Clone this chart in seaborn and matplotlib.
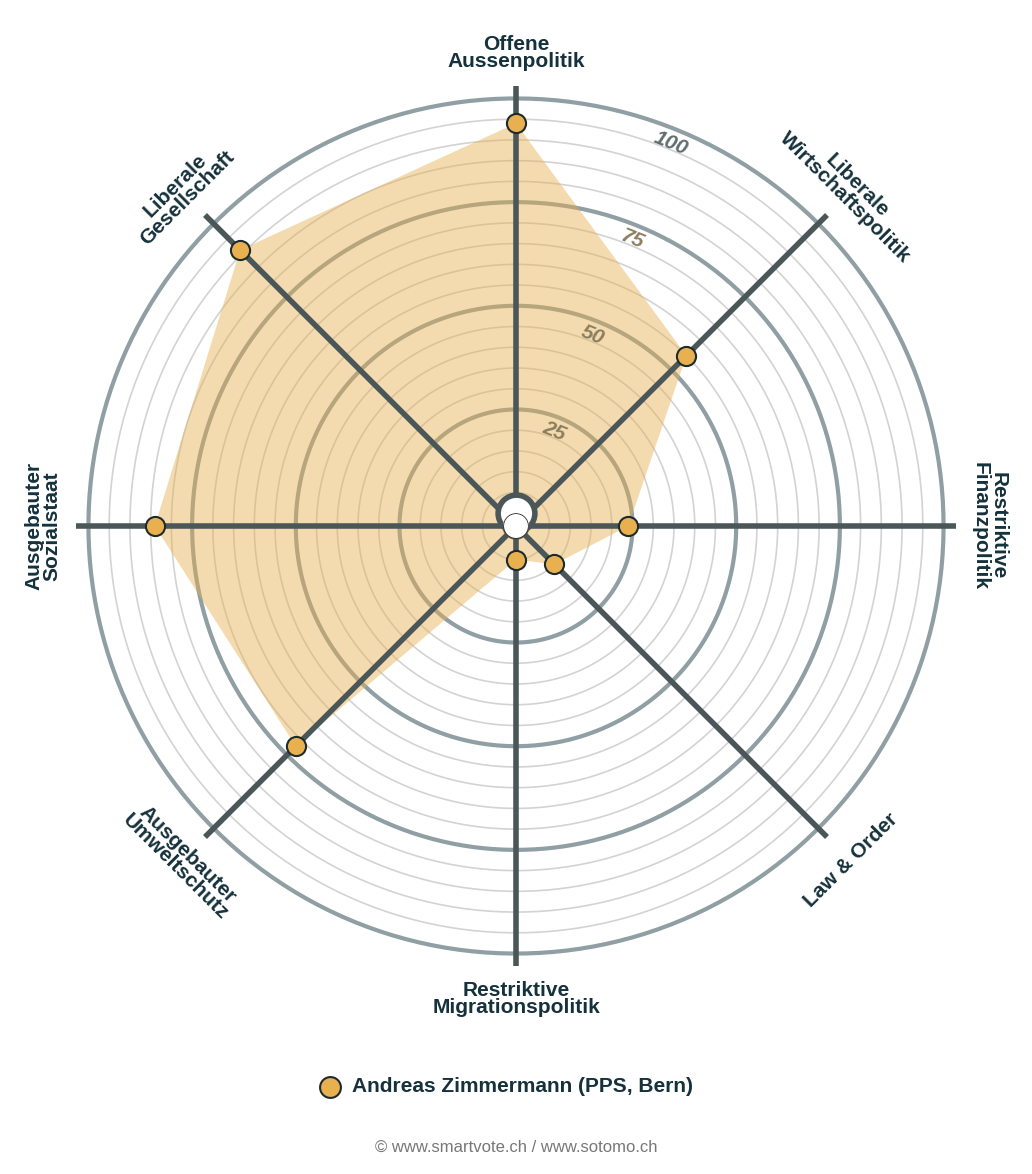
import numpy as np
import pandas as pd
import seaborn as sns
import matplotlib.pyplot as plt

# axis names, clockwise from the top
categories = [
    "Offene\nAussenpolitik", "Liberale\nWirtschaftspolitik", "Restriktive\nFinanzpolitik",
    "Law & Order", "Restriktive\nMigrationspolitik", "Ausgebauter\nUmweltschutz",
    "Ausgebauter\nSozialstaat", "Liberale\nGesellschaft",
]
values = [94, 55, 24, 10, 5, 72, 84, 91]
ring_ticks = [25, 50, 75, 100]
label_rot = [0, -45, -90, 45, 0, -45, 90, 45]
candidate = "Andreas Zimmermann (PPS, Bern)"

sns.set_theme(style="white")
plt.rcParams["font.family"] = ["Liberation Sans", "DejaVu Sans"]

fig = plt.figure(figsize=(10.32, 11.74), dpi=100)
ax = fig.add_axes([76 / 1032, 208 / 1174, 880 / 1032, 880 / 1174], projection="polar")
ax.set_theta_zero_location("N")
ax.set_theta_direction(-1)
ax.set_ylim(0, 103)
ax.set_rorigin(-3.1)
ax.grid(False)
ax.spines["polar"].set_visible(False)
ax.set_xticks([])
ax.set_yticks([])
ax.set_facecolor("none")

theta = np.linspace(0, 2 * np.pi, 8, endpoint=False)
circ = np.linspace(0, 2 * np.pi, 400)

# thin rings every 5
for r in range(5, 101, 5):
    if r not in ring_ticks:
        ax.plot(circ, [r] * len(circ), color="#d3d3d3", lw=1.2, zorder=1)
for r in ring_ticks:
    ax.plot(circ, [r] * len(circ), color="#909fa3", lw=3, zorder=2)

# filled area
ax.fill(np.append(theta, theta[0]), values + values[:1], color="#e8b04f", alpha=0.45, lw=0, zorder=3)

# spokes
for t in theta:
    ax.plot([t, t], [0, 103], color="#4b5659", lw=4, zorder=4, solid_capstyle="butt")

# center hole
ax.scatter([0], [0], s=700, color="white", edgecolor="#4b5659", linewidth=4, zorder=6)

df = pd.DataFrame({"theta": theta, "value": values})
sns.scatterplot(data=df, x="theta", y="value", ax=ax, s=190, color="#e8b04f",
                edgecolor="#1d2b2f", linewidth=1.5, zorder=7, legend=False)
ax.set_xlabel("")
ax.set_ylabel("")

# ring tick labels
tick_t = np.deg2rad(22)
for r in ring_ticks:
    ax.text(tick_t, r - 3.5, str(r), color="#5f6b6e" if r == 100 else "#8a7e5e",
            fontsize=15, fontweight="bold", style="italic", rotation=-22,
            ha="center", va="center", zorder=5)

# category labels
for t, lab, rot in zip(theta, categories, label_rot):
    ax.text(t, 111, lab, color="#15313b", fontsize=15, fontweight="bold",
            rotation=rot, ha="center", va="center", linespacing=0.9,
            rotation_mode="anchor", zorder=8)

# legend
fig.lines.append(plt.Line2D([330 / 1032], [1 - 1087 / 1174], transform=fig.transFigure,
                            marker="o", markersize=15, markerfacecolor="#e8b04f",
                            markeredgecolor="#1d2b2f", markeredgewidth=1.5, ls=""))
fig.text(352 / 1032, 1 - 1087 / 1174, candidate, fontsize=15, fontweight="bold",
         color="#15313b", va="center", ha="left")
fig.text(0.5, 1 - 1147 / 1174, "© www.smartvote.ch / www.sotomo.ch", fontsize=12,
         color="#777777", ha="center", va="center")

fig.savefig("out.png", dpi=100, facecolor="white")
